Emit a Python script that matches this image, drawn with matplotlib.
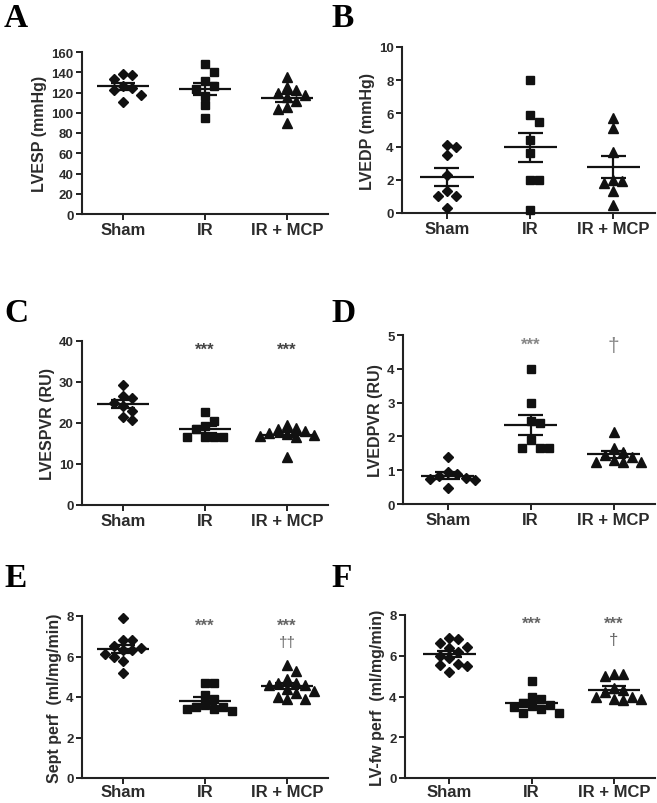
import numpy as np
import matplotlib
matplotlib.use("Agg")
import matplotlib.pyplot as plt

plt.rcParams['font.family'] = ['Liberation Sans', 'DejaVu Sans']

groups = ["Sham", "IR", "IR + MCP"]

# panel A - LVESP (mmHg)
lvesp_sham = [133, 137, 138, 124, 126, 118, 111, 122]
lvesp_ir = [148, 140, 131, 126, 123, 117, 108, 95]
lvesp_mcp = [135, 125, 122, 120, 118, 116, 112, 106, 104, 90]

# panel B - LVEDP (mmHg)
lvedp_sham = [4.0, 4.1, 3.5, 2.3, 1.3, 1.0, 1.0, 0.3]
lvedp_ir = [8.0, 5.9, 5.5, 4.4, 3.6, 2.0, 2.0, 0.2]
lvedp_mcp = [5.7, 5.1, 3.7, 2.0, 1.9, 1.8, 1.3, 0.5]

# panel C - LVESPVR (RU)
lvespvr_sham = [29.3, 26.7, 26.0, 25.0, 24.2, 23.0, 21.4, 20.8]
lvespvr_ir = [22.6, 20.6, 19.2, 18.6, 16.7, 16.7, 16.6, 16.5]
lvespvr_mcp = [19.5, 18.8, 18.5, 18.0, 17.5, 17.2, 17.0, 16.8, 16.5, 11.8]

# panel D - LVEDPVR (RU)
lvedpvr_sham = [1.38, 0.94, 0.88, 0.82, 0.78, 0.74, 0.72, 0.46]
lvedpvr_ir = [4.0, 3.0, 2.45, 2.4, 1.9, 1.65, 1.65, 1.65]
lvedpvr_mcp = [2.12, 1.65, 1.55, 1.45, 1.4, 1.3, 1.25, 1.25, 1.25]

# panel E - septal perfusion
sept_sham = [7.9, 6.8, 6.8, 6.5, 6.4, 6.3, 6.3, 6.1, 6.0, 5.8, 5.2]
sept_ir = [4.7, 4.7, 4.1, 3.9, 3.6, 3.5, 3.5, 3.4, 3.4, 3.3]
sept_mcp = [5.6, 5.3, 4.9, 4.7, 4.7, 4.6, 4.6, 4.4, 4.3, 4.2, 4.0, 3.9, 3.9]

# panel F - LV free wall perfusion
lvfw_sham = [6.85, 6.8, 6.65, 6.45, 6.4, 6.2, 6.0, 5.9, 5.6, 5.55, 5.5, 5.2]
lvfw_ir = [4.75, 4.0, 3.9, 3.7, 3.6, 3.55, 3.5, 3.4, 3.2, 3.2]
lvfw_mcp = [5.1, 5.1, 5.0, 4.4, 4.3, 4.2, 4.0, 4.0, 3.9, 3.9, 3.85]

stars_c = ["", "***", "***"]
stars_d = ["", "***", ""]
dagger_d = ["", "", "\u2020"]
stars_e = ["", "***", "***"]
dagger_e = ["", "", "\u2020\u2020"]
stars_f = ["", "***", "***"]
dagger_f = ["", "", "\u2020"]

W, H = 657, 804
fig = plt.figure(figsize=(W / 100, H / 100), dpi=100)

markers = ['D', 's', '^']
msizes = [5.0, 6.0, 6.5]
txt = '#2b2b2b'


def swarm(vals, ypx, xpx, d=9.0):
    # simple beeswarm: spread close points sideways
    vals = np.asarray(vals, float)
    offs = np.zeros(len(vals))
    placed = []
    for i in np.argsort(-vals):
        y = vals[i] * ypx
        for k in [0, 1, -1, 2, -2, 3, -3, 4, -4, 5, -5]:
            x = k * d
            if all((x - a) ** 2 + (y - b) ** 2 >= d ** 2 for a, b in placed):
                break
        placed.append((x, y))
        offs[i] = x
    return offs / xpx


def panel(box, data, ymax, ystep, ylabel, stars=None, dagger=None,
          star_y=0.95, dag_y=0.87, star_col='#555555', dag_size=11, xpad=2):
    l, t, r, b = box
    ax = fig.add_axes([l / W, 1 - b / H, (r - l) / W, (b - t) / H])
    xlo = -0.5 if l < 300 else -0.54
    ax.set_xlim(xlo, 2.5)
    ax.set_ylim(0, ymax)
    ypx = (b - t) / ymax
    xpx = (r - l) / (2.5 - xlo)
    for i, vals in enumerate(data):
        off = swarm(vals, ypx, xpx)
        ax.plot(i + off, vals, ls='none', marker=markers[i], ms=msizes[i],
                color='#111111', mec='#111111', clip_on=False, zorder=3)
        m = np.mean(vals)
        se = np.std(vals, ddof=1) / np.sqrt(len(vals))
        ax.hlines(m, i - 0.32, i + 0.32, color='#111111', lw=1.6, zorder=4)
        ax.hlines([m - se, m + se], i - 0.15, i + 0.15, color='#111111', lw=1.6, zorder=4)
        ax.vlines(i, m - se, m + se, color='#111111', lw=1.6, zorder=4)
        if stars and stars[i]:
            ax.text(i, ymax * star_y, stars[i], ha='center', va='center',
                    fontsize=12, fontweight='bold', color=star_col)
        if dagger and dagger[i]:
            ax.text(i, ymax * dag_y, dagger[i], ha='center', va='center',
                    fontsize=dag_size, color=star_col)
    for s in ['top', 'right']:
        ax.spines[s].set_visible(False)
    for s in ['left', 'bottom']:
        ax.spines[s].set_linewidth(1.5)
        ax.spines[s].set_color('#222222')
    ax.set_yticks(np.arange(0, ymax + ystep / 2, ystep))
    ax.set_xticks([0, 1, 2])
    ax.set_xticklabels(groups, fontsize=12, fontweight='bold', color=txt)
    ax.tick_params(axis='y', length=4, width=1.4, labelsize=9.5, pad=2,
                   labelcolor=txt, color='#222222')
    ax.tick_params(axis='x', length=4, width=1.4, pad=xpad, color='#222222')
    for lab in ax.get_yticklabels():
        lab.set_fontweight('bold')
    ax.set_ylabel(ylabel, fontsize=11.5, fontweight='bold', color=txt, labelpad=3)
    return ax


boxes = {
    'A': (82, 53, 328, 215),
    'B': (402, 48, 655, 214),
    'C': (82, 342, 328, 506),
    'D': (403, 336, 655, 505),
    'E': (82, 617, 328, 779),
    'F': (405, 616, 655, 779),
}
letter_y = {'A': 27, 'B': 27, 'C': 322, 'D': 322, 'E': 587, 'F': 587}

panel(boxes['A'], [lvesp_sham, lvesp_ir, lvesp_mcp], 160, 20, 'LVESP (mmHg)')
panel(boxes['B'], [lvedp_sham, lvedp_ir, lvedp_mcp], 10, 2, 'LVEDP (mmHg)')
panel(boxes['C'], [lvespvr_sham, lvespvr_ir, lvespvr_mcp], 40, 10, 'LVESPVR (RU)',
      stars=stars_c, star_col='#444444')
panel(boxes['D'], [lvedpvr_sham, lvedpvr_ir, lvedpvr_mcp], 5, 1, 'LVEDPVR (RU)',
      stars=stars_d, dagger=dagger_d, star_y=0.946, dag_y=0.94, star_col='#888888',
      dag_size=15)
panel(boxes['E'], [sept_sham, sept_ir, sept_mcp], 8, 2, 'Sept perf  (ml/mg/min)',
      stars=stars_e, dagger=dagger_e, star_y=0.94, dag_y=0.84, star_col='#666666',
      xpad=0.5)
panel(boxes['F'], [lvfw_sham, lvfw_ir, lvfw_mcp], 8, 2, 'LV-fw perf  (ml/mg/min)',
      stars=stars_f, dagger=dagger_f, star_y=0.95, dag_y=0.85, star_col='#666666',
      dag_size=12, xpad=0.5)

for k, (l, t, r, b) in boxes.items():
    lx = 4 if l < 300 else 331
    fig.text(lx / W, 1 - letter_y[k] / H, k, fontsize=24, fontweight='bold',
             family=['Liberation Serif', 'DejaVu Serif'], ha='left', va='baseline')

fig.savefig('out.png', dpi=100)
